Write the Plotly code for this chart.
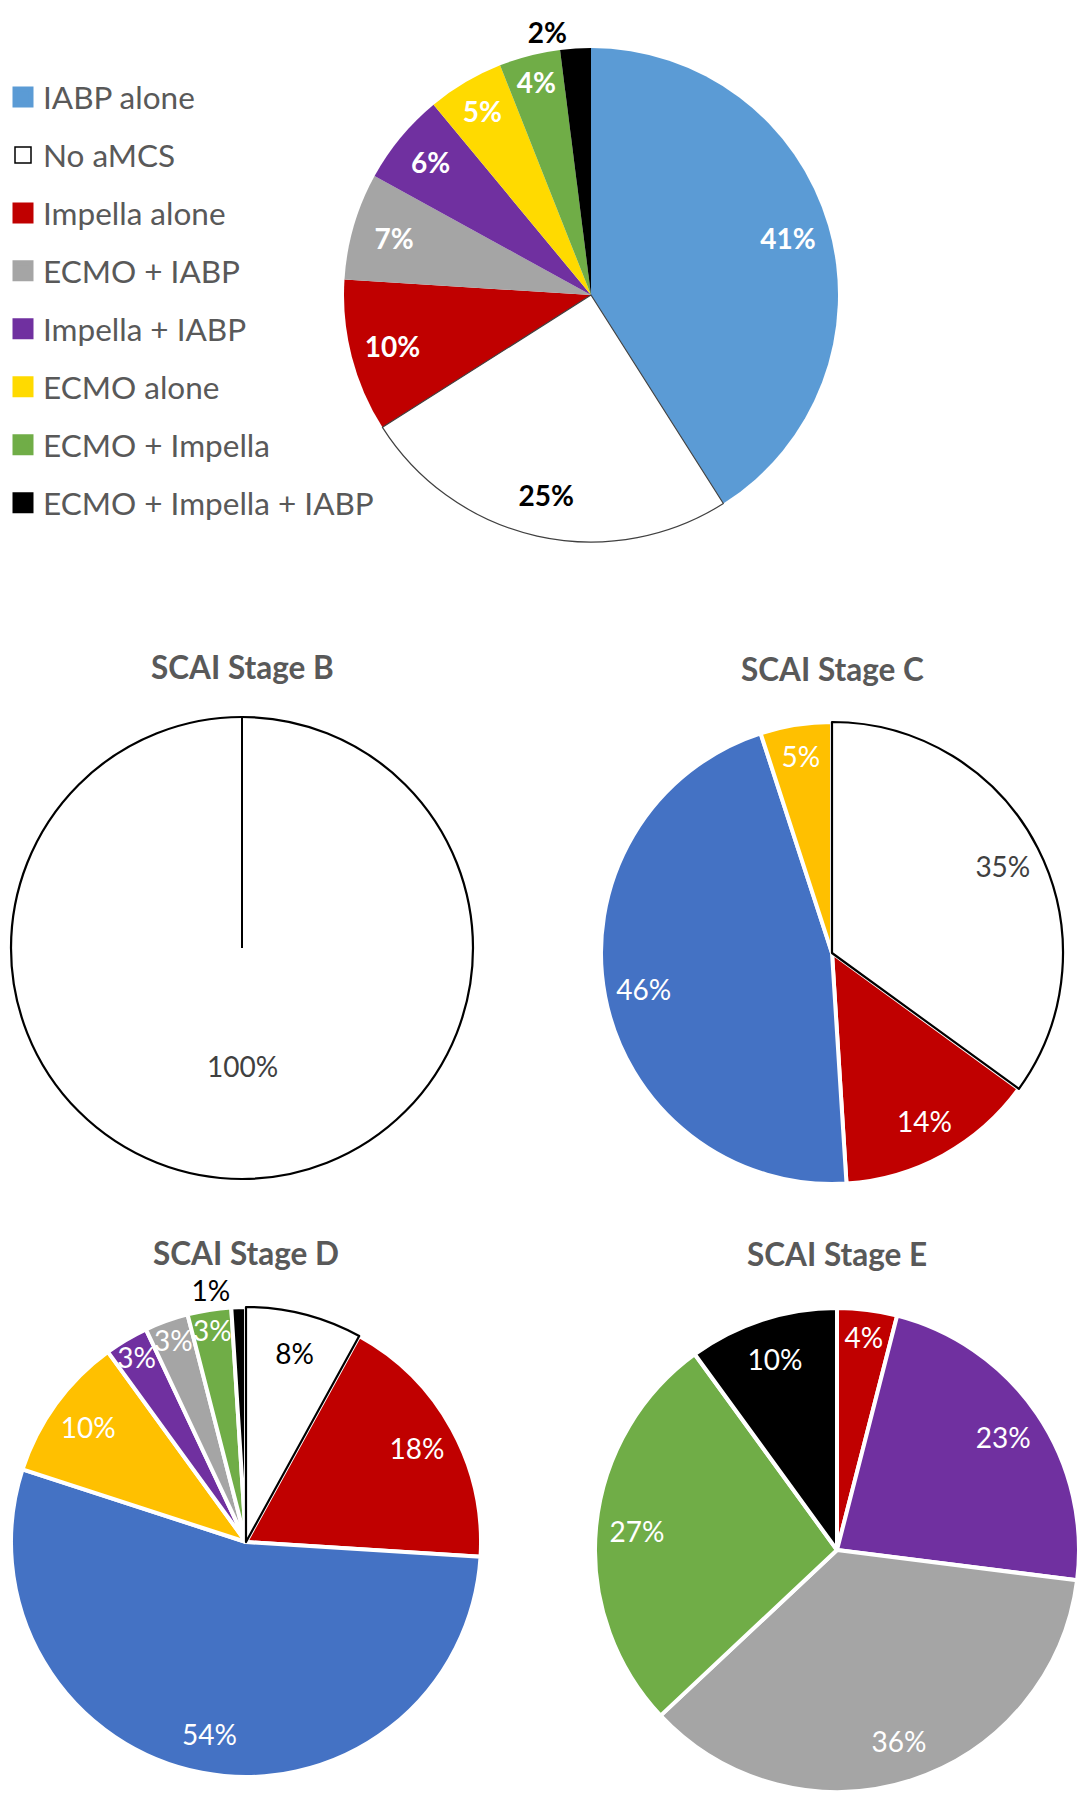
import plotly.graph_objects as go

W, H = 1081, 1800

# ---------------- data ----------------
legend_labels = ["IABP alone", "No aMCS", "Impella alone", "ECMO + IABP",
                 "Impella + IABP", "ECMO alone", "ECMO + Impella", "ECMO + Impella + IABP"]

overall_labels = ["IABP alone", "No aMCS", "Impella alone", "ECMO + IABP",
                  "Impella + IABP", "ECMO alone", "ECMO + Impella", "ECMO + Impella + IABP"]
overall_values = [41, 25, 10, 7, 6, 5, 4, 2]

stage_b_labels = ["No aMCS"]
stage_b_values = [100]

stage_c_labels = ["No aMCS", "Impella alone", "IABP alone", "ECMO alone"]
stage_c_values = [35, 14, 46, 5]

stage_d_labels = ["No aMCS", "Impella alone", "IABP alone", "ECMO alone",
                  "Impella + IABP", "ECMO + IABP", "ECMO + Impella", "ECMO + Impella + IABP"]
stage_d_values = [8, 18, 54, 10, 3, 3, 3, 1]

stage_e_labels = ["Impella alone", "Impella + IABP", "ECMO + IABP", "ECMO + Impella", "ECMO + Impella + IABP"]
stage_e_values = [4, 23, 36, 27, 10]

stage_titles = ["SCAI Stage B", "SCAI Stage C", "SCAI Stage D", "SCAI Stage E"]

# ---------------- styles ----------------
COLORS_TOP = {
    "IABP alone": "#5B9BD5", "No aMCS": "#FFFFFF", "Impella alone": "#C00000",
    "ECMO + IABP": "#A5A5A5", "Impella + IABP": "#7030A0", "ECMO alone": "#FFDA00",
    "ECMO + Impella": "#70AD47", "ECMO + Impella + IABP": "#000000",
}
COLORS_STAGE = dict(COLORS_TOP)
COLORS_STAGE["IABP alone"] = "#4472C4"
COLORS_STAGE["ECMO alone"] = "#FFC000"

FONT = "Lato"
GREY_TEXT = "#595959"
LABEL_SIZE = 28

fig = go.Figure()


def dom(cx, cy, r):
    return dict(x=[(cx - r) / W, (cx + r) / W], y=[1 - (cy + r) / H, 1 - (cy - r) / H])


def add_pie(labels, values, palette, geom, txt_colors, bold, gap, white_line,
            outside=(), show_text=True):
    d = dom(*geom)
    n = len(labels)
    colors = [palette[l] for l in labels]
    widths = [0 if (l == "No aMCS") else gap for l in labels]
    fig.add_trace(go.Pie(
        labels=labels, values=values, domain=d, sort=False, direction="clockwise",
        rotation=0, textinfo="none", showlegend=False, hoverinfo="label+percent",
        marker=dict(colors=colors, line=dict(color="#FFFFFF", width=widths)),
    ))
    # outline for the white slice
    fig.add_trace(go.Pie(
        labels=labels, values=values, domain=d, sort=False, direction="clockwise",
        rotation=0, textinfo="none", showlegend=False, hoverinfo="skip",
        marker=dict(colors=["rgba(0,0,0,0)"] * n,
                    line=dict(color=white_line[0],
                              width=[white_line[1] if l == "No aMCS" else 0 for l in labels])),
    ))
    if show_text:
        fig.add_trace(go.Pie(
            labels=labels, values=values, domain=d, sort=False, direction="clockwise",
            rotation=0, hole=0.66, showlegend=False, hoverinfo="skip",
            marker=dict(colors=["rgba(0,0,0,0)"] * n, line=dict(width=0)),
            texttemplate="%{percent:.0%}",
            textposition=["outside" if i in outside else "inside" for i in range(n)],
            insidetextorientation="horizontal",
            textfont=dict(family=FONT, size=LABEL_SIZE, color=txt_colors,
                          weight="bold" if bold else "normal"),
        ))


def txtcol(labels, dark="#000000", outside_idx=()):
    return [dark if (l == "No aMCS" or i in outside_idx) else "#FFFFFF" for i, l in enumerate(labels)]


# geometry (centre x, centre y, radius) in pixels
G_TOP = (591, 295, 247)
G_B = (242, 948, 231)
G_C = (832, 953, 231)
G_D = (246, 1542, 235)
G_E = (837, 1550, 242)

add_pie(overall_labels, overall_values, COLORS_TOP, G_TOP,
        txtcol(overall_labels, "#000000", (7,)), True, 0, ("#404040", 1.2), outside=(7,))
add_pie(stage_b_labels, stage_b_values, COLORS_STAGE, G_B,
        ["#404040"], False, 0, ("#000000", 2.2), show_text=False)
add_pie(stage_c_labels, stage_c_values, COLORS_STAGE, G_C,
        txtcol(stage_c_labels, "#404040"), False, 4, ("#000000", 2.2))
add_pie(stage_d_labels, stage_d_values, COLORS_STAGE, G_D,
        txtcol(stage_d_labels, "#000000", (7,)), False, 4, ("#000000", 2.2), outside=(7,))
add_pie(stage_e_labels, stage_e_values, COLORS_STAGE, G_E,
        txtcol(stage_e_labels), False, 4, ("#000000", 2.2))

# Stage B: radial edge of the single slice and its label
cx, cy, r = G_B
fig.add_shape(type="line", xref="paper", yref="paper",
              x0=cx / W, x1=cx / W, y0=1 - cy / H, y1=1 - (cy - r) / H,
              line=dict(color="#000000", width=2))
fig.add_annotation(x=cx / W, y=1 - (cy + 0.51 * r) / H, xref="paper", yref="paper",
                   text=f"{stage_b_values[0]}%", showarrow=False,
                   xanchor="center", yanchor="middle",
                   font=dict(family=FONT, size=LABEL_SIZE, color="#404040"))

# stage titles
for title, gx, ty in zip(stage_titles, [G_B[0], G_C[0], G_D[0], G_E[0]],
                         [667, 669, 1253, 1254]):
    fig.add_annotation(x=gx / W, y=1 - ty / H, xref="paper", yref="paper",
                       text=f"<b>{title}</b>", showarrow=False,
                       xanchor="center", yanchor="middle",
                       font=dict(family=FONT, size=31.5, color=GREY_TEXT))

# legend entries
for name in legend_labels:
    c = COLORS_TOP[name]
    is_white = name == "No aMCS"
    fig.add_trace(go.Scatter(
        x=[None], y=[None], mode="markers", name=name, legendgroup=name,
        marker=dict(symbol="square", size=16, color=c,
                    line=dict(color="#000000" if is_white else c, width=1.5 if is_white else 5)),
    ))

fig.update_layout(
    width=W, height=H, autosize=False,
    margin=dict(l=0, r=0, t=0, b=0),
    paper_bgcolor="#FFFFFF", plot_bgcolor="#FFFFFF",
    xaxis=dict(visible=False), yaxis=dict(visible=False),
    uniformtext=dict(minsize=LABEL_SIZE, mode="show"),
    showlegend=True,
    legend=dict(x=3 / W, y=1 - 70 / H, xanchor="left", yanchor="top",
                font=dict(family=FONT, size=31.5, color=GREY_TEXT),
                tracegroupgap=14, bgcolor="rgba(0,0,0,0)", itemclick=False,
                itemdoubleclick=False),
)

fig.write_html("out.html", config={"displayModeBar": False},
               post_script="document.body.style.margin='0px';")
